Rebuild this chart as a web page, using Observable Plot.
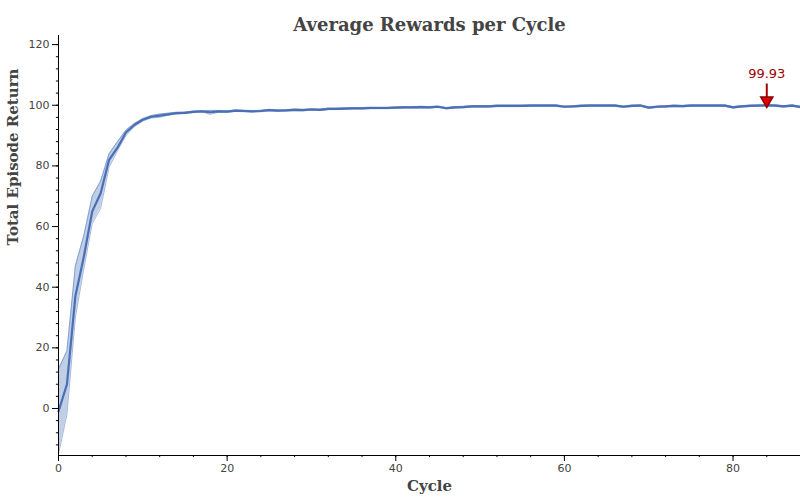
<!DOCTYPE html>
<html>
<head>
<meta charset="utf-8">
<script src="https://cdn.jsdelivr.net/npm/d3@7"></script>
<script src="https://cdn.jsdelivr.net/npm/@observablehq/plot@0.6"></script>
<style>
  body { margin: 0; background: #fff; }
</style>
</head>
<body>
<div id="chart"></div>
<script>
// mean reward per cycle
const meanReward = [
  -1, 8, 37, 50, 65, 71, 82, 86, 91, 93.5,
  95.2, 96.2, 96.6, 97, 97.4, 97.5, 97.8, 98, 97.7, 98,
  97.9, 98.2, 98.1, 98, 98.1, 98.4, 98.2, 98.3, 98.5, 98.4,
  98.6, 98.5, 98.8, 98.8, 98.9, 99, 99, 99.1, 99.1, 99.1,
  99.2, 99.3, 99.3, 99.4, 99.3, 99.5, 99, 99.3, 99.4, 99.6,
  99.6, 99.6, 99.8, 99.8, 99.8, 99.8, 99.9, 99.9, 99.9, 99.9,
  99.5, 99.6, 99.8, 99.9, 99.9, 99.9, 99.9, 99.5, 99.8, 99.9,
  99.2, 99.5, 99.6, 99.8, 99.7, 99.9, 99.9, 99.9, 99.9, 99.9,
  99.3, 99.6, 99.8, 99.9, 99.93, 99.9, 99.6, 99.9, 99.4
];
// band edges for the early cycles
const bandLow = [
  -15, -2, 30, 46, 61, 66, 79.5, 85, 90, 93,
  94.8, 95.8, 96, 96.7, 97.1, 97.3, 97.6, 97.8, 97, 97.7
];
const bandHigh = [
  13, 19, 47, 57, 70, 75, 84, 88, 91.8, 94,
  95.6, 96.6, 97.1, 97.4, 97.7, 97.8, 98.1, 98.2, 98.3, 98.3
];
const cycles = meanReward.map((d, i) => i);
const bestCycle = 84;
const bestValue = "99.93";

const rows = cycles.map(i => ({
  cycle: i,
  mean: meanReward[i],
  lo: i < bandLow.length ? bandLow[i] : meanReward[i] - 0.25,
  hi: i < bandHigh.length ? bandHigh[i] : meanReward[i] + 0.25
}));

const majorX = d3.range(0, 81, 20);
const minorX = d3.range(0, 89, 4);
const majorY = d3.range(0, 121, 20);
const minorY = d3.range(-12, 123, 4);
const yMin = -15.5;

const chart = Plot.plot({
  width: 800,
  height: 500,
  marginTop: 35,
  marginLeft: 58,
  marginRight: 0,
  marginBottom: 45,
  style: { fontFamily: "DejaVu Sans, sans-serif", fontSize: "11px", color: "#444" },
  x: { type: "linear", domain: [0, 88] },
  y: { type: "linear", domain: [yMin, 123] },
  marks: [
    Plot.areaY(rows, { x: "cycle", y1: "lo", y2: "hi", fill: "#4a72b8", fillOpacity: 0.35 }),
    Plot.lineY(rows, { x: "cycle", y: "lo", stroke: "#4a72b8", strokeOpacity: 0.5, strokeWidth: 1 }),
    Plot.lineY(rows, { x: "cycle", y: "hi", stroke: "#4a72b8", strokeOpacity: 0.5, strokeWidth: 1 }),
    Plot.lineY(rows, { x: "cycle", y: "mean", stroke: "#4a6fb5", strokeWidth: 2.2 }),
    Plot.ruleY([yMin], { stroke: "#000" }),
    Plot.ruleX([0], { stroke: "#000" }),
    Plot.ruleX(minorX, { y1: yMin, y2: yMin - 0.7, stroke: "#000" }),
    Plot.ruleY(minorY, { x1: 0, x2: -0.25, stroke: "#000" }),
    Plot.axisX({ ticks: majorX, tickSize: 6, stroke: "#000", fill: "#444", label: null }),
    Plot.axisY({ ticks: majorY, tickSize: 6, stroke: "#000", fill: "#444", label: null }),
    Plot.ruleX([bestCycle], { y1: 107, y2: 102, stroke: "#a00000", strokeWidth: 2 }),
    Plot.dot([bestCycle], { x: d => d, y: () => 101.6, symbol: "triangle", rotate: 180, r: 4.5, fill: "#e00000", stroke: "#8a0000" }),
    Plot.text([bestValue], { x: () => bestCycle, y: () => 110.5, text: d => d, fill: "#a00000", fontSize: 13 }),
    Plot.text(["Average Rewards per Cycle"], { frameAnchor: "top", dy: -17, text: d => d, fontFamily: "DejaVu Serif, serif", fontWeight: "bold", fontSize: 18, fill: "#444" }),
    Plot.text(["Cycle"], { frameAnchor: "bottom", dy: 35, text: d => d, fontFamily: "DejaVu Serif, serif", fontWeight: "bold", fontSize: 15, fill: "#444" }),
    Plot.text(["Total Episode Return"], { frameAnchor: "left", dx: -45, rotate: -90, text: d => d, fontFamily: "DejaVu Serif, serif", fontWeight: "bold", fontSize: 15, fill: "#444" })
  ]
});
document.getElementById("chart").append(chart);
</script>
</body>
</html>
